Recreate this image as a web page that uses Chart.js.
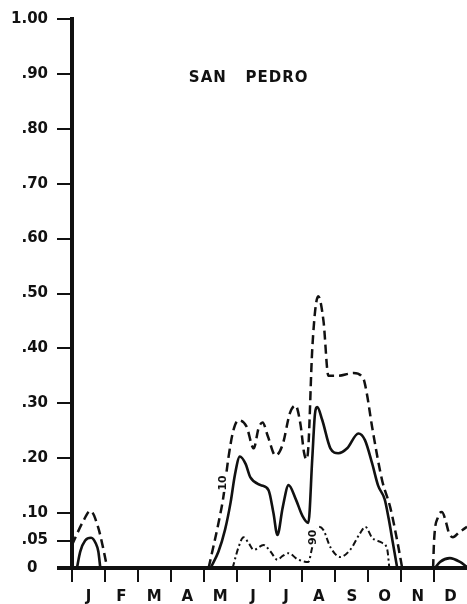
<!DOCTYPE html>
<html>
<head>
<meta charset="utf-8">
<title>San Pedro</title>
<script src="https://cdn.jsdelivr.net/npm/chart.js@4.4.1/dist/chart.umd.min.js"></script>
<style>
  html, body { margin: 0; padding: 0; background: #fff; }
  #wrap { width: 467px; height: 604px; position: relative; }
</style>
</head>
<body>
<div id="wrap"><canvas id="chart"></canvas></div>
<script>
const monthLabels = ['J', 'F', 'M', 'A', 'M', 'J', 'J', 'A', 'S', 'O', 'N', 'D'];
const yTicks = [0, 0.05, 0.10, 0.20, 0.30, 0.40, 0.50, 0.60, 0.70, 0.80, 0.90, 1.00];

// x = months from start of January, null breaks the curve
// "10" curve (dashed)
const p10X = [0, 0.33, 0.56, 0.79, 0.94, 1.07, 2,
  4.15, 4.45, 4.6, 4.75, 4.9, 5.06, 5.3, 5.52, 5.67, 5.79, 5.95, 6.18, 6.4, 6.62, 6.79, 6.94,
  7.05, 7.12, 7.18, 7.3, 7.48, 7.64, 7.79, 8.06, 8.55, 8.85, 8.95, 9.12, 9.42, 9.67, 9.91, 10.03, 10.5,
  10.97, 11.0, 11.12, 11.24, 11.36, 11.45, 11.57, 11.76, 12];
const p10Y = [0.042, 0.084, 0.104, 0.075, 0.038, 0, null,
  0, 0.082, 0.13, 0.2, 0.25, 0.269, 0.258, 0.218, 0.255, 0.265, 0.24, 0.205, 0.225, 0.282, 0.296, 0.262,
  0.21, 0.198, 0.22, 0.40, 0.495, 0.45, 0.35, 0.35, 0.355, 0.345, 0.32, 0.256, 0.16, 0.11, 0.04, 0, null,
  0, 0.05, 0.093, 0.102, 0.084, 0.064, 0.056, 0.065, 0.075];

// median curve (solid)
const p50X = [0.15, 0.25, 0.4, 0.58, 0.72, 0.8, 0.86, 2,
  4.21, 4.45, 4.65, 4.82, 4.95, 5.1, 5.27, 5.42, 5.73, 5.97, 6.12, 6.24, 6.4, 6.58, 6.8, 7.0,
  7.18, 7.3, 7.38, 7.45, 7.6, 7.85, 8.09, 8.36, 8.7, 8.9, 9.12, 9.3, 9.5, 9.62, 9.75, 9.88, 10.5,
  11.03, 11.18, 11.48, 11.79, 12];
const p50Y = [0, 0.03, 0.05, 0.055, 0.045, 0.03, 0, null,
  0, 0.03, 0.07, 0.12, 0.17, 0.203, 0.19, 0.165, 0.151, 0.142, 0.10, 0.06, 0.11, 0.151, 0.125, 0.095,
  0.082, 0.2, 0.28, 0.293, 0.27, 0.218, 0.209, 0.218, 0.245, 0.233, 0.19, 0.15, 0.125, 0.09, 0.045, 0, null,
  0, 0.011, 0.018, 0.011, 0.002];

// "90" curve (dash-dot)
const p90X = [4.88, 5.06, 5.21, 5.36, 5.52, 5.82, 6.03, 6.24, 6.4, 6.58, 6.85, 7.18, 7.3, 7.5, 7.64,
  7.85, 8.15, 8.45, 8.76, 8.91, 9.12, 9.42, 9.58, 9.64];
const p90Y = [0, 0.038, 0.056, 0.046, 0.033, 0.042, 0.03, 0.015, 0.022, 0.027, 0.016, 0.011, 0.038, 0.075, 0.069,
  0.038, 0.02, 0.033, 0.064, 0.075, 0.055, 0.046, 0.033, 0];

const INK = '#111';
const FONT = '"DejaVu Sans", sans-serif';

function points(xs, ys) {
  return xs.map((x, i) => ({ x: x, y: ys[i] }));
}

const textMarks = {
  id: 'textMarks',
  afterDatasetsDraw(chart) {
    const { ctx, scales: { x, y } } = chart;
    ctx.save();
    ctx.fillStyle = INK;
    ctx.textBaseline = 'middle';
    ctx.textAlign = 'left';
    ctx.font = 'bold 15px ' + FONT;
    ctx.letterSpacing = '1px';
    ctx.fillText('SAN', x.getPixelForValue(3.55), y.getPixelForValue(0.893));
    ctx.fillText('PEDRO', x.getPixelForValue(5.27), y.getPixelForValue(0.893));
    ctx.letterSpacing = '0px';

    // rotated curve labels sitting on the lines
    ctx.font = 'bold 11px ' + FONT;
    ctx.textAlign = 'center';
    [['10', 4.6, 0.155], ['90', 7.33, 0.056]].forEach(([t, mx, my]) => {
      const px = x.getPixelForValue(mx);
      const py = y.getPixelForValue(my);
      ctx.save();
      ctx.translate(px, py);
      ctx.rotate(-Math.PI / 2);
      ctx.fillStyle = '#fff';
      ctx.fillRect(-9, -6, 18, 12);
      ctx.fillStyle = INK;
      ctx.fillText(t, 0, 0);
      ctx.restore();
    });
    ctx.restore();
  }
};

new Chart(document.getElementById('chart'), {
  type: 'line',
  data: {
    datasets: [
      {
        data: points(p10X, p10Y),
        borderColor: INK, borderWidth: 2.5, borderDash: [9, 5]
      },
      {
        data: points(p50X, p50Y),
        borderColor: INK, borderWidth: 2.6
      },
      {
        data: points(p90X, p90Y),
        borderColor: INK, borderWidth: 2, borderDash: [6, 3, 2, 3]
      }
    ]
  },
  options: {
    responsive: true,
    maintainAspectRatio: false,
    animation: false,
    events: [],
    spanGaps: false,
    layout: { padding: { top: 19, right: 0, left: 0, bottom: 0 } },
    elements: {
      point: { radius: 0 },
      line: { cubicInterpolationMode: 'monotone', fill: false }
    },
    plugins: { legend: { display: false }, tooltip: { enabled: false } },
    scales: {
      x: {
        type: 'linear',
        min: 0,
        max: 12,
        afterBuildTicks: s => { s.ticks = monthLabels.map((_, i) => ({ value: i })); },
        afterFit: s => { s.height = 36; },
        border: { color: INK, width: 4 },
        grid: { drawOnChartArea: false, drawTicks: true, tickLength: 14, color: INK, lineWidth: 2 },
        ticks: {
          callback: (v, i) => monthLabels[i],
          labelOffset: 16.5,
          padding: 6,
          maxRotation: 0,
          autoSkip: false,
          color: INK,
          font: { family: FONT, size: 15, weight: 'bold' }
        }
      },
      y: {
        min: 0,
        max: 1,
        afterBuildTicks: s => { s.ticks = yTicks.map(v => ({ value: v })); },
        afterFit: s => { s.width = 72; },
        border: { color: INK, width: 4 },
        grid: {
          drawOnChartArea: false, drawTicks: true, tickLength: 15, color: INK,
          lineWidth: c => (c.tick && c.tick.value === 0 ? 4 : 2)
        },
        ticks: {
          callback: v => (v === 0 ? '0\u2002\u2009' : v === 1 ? '1.00' : v.toFixed(2).replace(/^0/, '')),
          padding: 9,
          color: INK,
          font: { family: FONT, size: 15, weight: 'bold' }
        }
      }
    }
  },
  plugins: [textMarks]
});
</script>
</body>
</html>
